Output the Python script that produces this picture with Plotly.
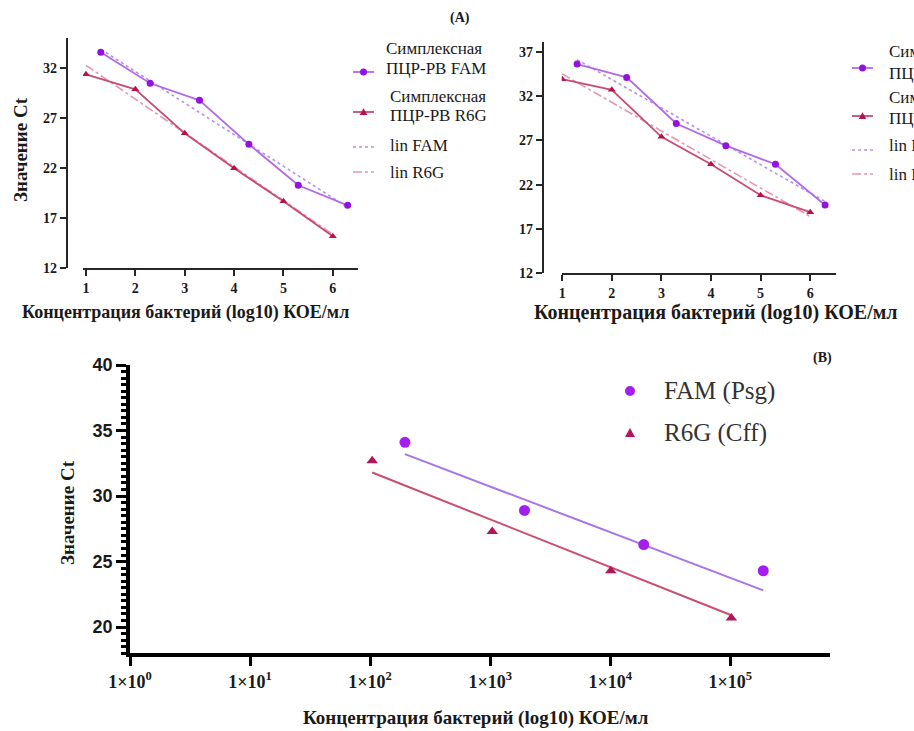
import plotly.graph_objects as go

W, H = 914, 731

# ---------------- data ----------------
# Panel A (left)
a1_x_fam = [1.3, 2.3, 3.3, 4.3, 5.3, 6.3]
a1_y_fam = [33.6, 30.5, 28.8, 24.4, 20.3, 18.3]
a1_x_r6g = [1, 2, 3, 4, 5, 6]
a1_y_r6g = [31.4, 29.9, 25.5, 22.0, 18.7, 15.2]
a1_lin_fam_x = [1.3, 6.3]
a1_lin_fam_y = [33.9, 18.1]
a1_lin_r6g_x = [1, 6]
a1_lin_r6g_y = [32.3, 15.4]

# Panel A (right)
a2_x_fam = [1.3, 2.3, 3.3, 4.3, 5.3, 6.3]
a2_y_fam = [35.6, 34.1, 28.9, 26.4, 24.3, 19.7]
a2_x_r6g = [1, 2, 3, 4, 5, 6]
a2_y_r6g = [33.9, 32.7, 27.4, 24.3, 20.8, 18.9]
a2_lin_fam_x = [1.3, 6.3]
a2_lin_fam_y = [36.1, 20.1]
a2_lin_r6g_x = [1, 6]
a2_lin_r6g_y = [34.5, 18.4]

a_xticks = [1, 2, 3, 4, 5, 6]
a1_yticks = [12, 17, 22, 27, 32]
a2_yticks = [12, 17, 22, 27, 32, 37]

# Panel B
b_x_fam = [1.95e2, 1.93e3, 1.9e4, 1.88e5]
b_y_fam = [34.1, 28.9, 26.3, 24.3]
b_x_r6g = [1.04e2, 1.04e3, 1.01e4, 1.02e5]
b_y_r6g = [32.7, 27.3, 24.3, 20.7]
b_fit_fam_x = [1.95e2, 1.88e5]
b_fit_fam_y = [33.2, 22.8]
b_fit_r6g_x = [1.04e2, 1.02e5]
b_fit_r6g_y = [31.8, 20.9]
b_xticks = [1, 10, 100, 1000, 10000, 100000]
b_xticktext = ["1×10<sup>%d</sup>" % i for i in range(6)]
b_yticks = [20, 25, 30, 35, 40]

legend_a = ["Симплексная", "ПЦР-РВ FAM", "Симплексная", "ПЦР-РВ R6G", "lin FAM", "lin R6G"]
legend_b = ["FAM (Psg)", "R6G (Cff)"]
title_y = "Значение Ct"
title_x = "Концентрация бактерий (log10) КОЕ/мл"

# ---------------- styles ----------------
C_FAM_M = "#9412E0"
C_FAM_L = "#B468EA"
C_FAM_D = "#B690EC"
C_R6G_M = "#B8124E"
C_R6G_L = "#C94A74"
C_R6G_D = "#E597AE"
C_B_FAM_L = "#A874EA"
C_B_FAM_M = "#A21FF0"
C_B_R6G_L = "#CC4D6E"
C_B_R6G_M = "#B4145A"
SERIF = "Liberation Serif"
AX = "#262626"


def px(x):
    return x / W


def py(y):
    return 1 - y / H


fig = go.Figure()

# Panel A left
fig.add_trace(go.Scatter(x=a1_lin_fam_x, y=a1_lin_fam_y, mode="lines", name="lin FAM",
                         line=dict(color=C_FAM_D, width=1.6, dash="dot"), xaxis="x", yaxis="y"))
fig.add_trace(go.Scatter(x=a1_lin_r6g_x, y=a1_lin_r6g_y, mode="lines", name="lin R6G",
                         line=dict(color=C_R6G_D, width=1.6, dash="dashdot"), xaxis="x", yaxis="y"))
fig.add_trace(go.Scatter(x=a1_x_fam, y=a1_y_fam, mode="lines+markers", name="ПЦР-РВ FAM",
                         line=dict(color=C_FAM_L, width=1.8),
                         marker=dict(color=C_FAM_M, size=7, symbol="circle"), xaxis="x", yaxis="y"))
fig.add_trace(go.Scatter(x=a1_x_r6g, y=a1_y_r6g, mode="lines+markers", name="ПЦР-РВ R6G",
                         line=dict(color=C_R6G_L, width=1.8),
                         marker=dict(color=C_R6G_M, size=7, symbol="triangle-up"), xaxis="x", yaxis="y"))

# Panel A right
fig.add_trace(go.Scatter(x=a2_lin_fam_x, y=a2_lin_fam_y, mode="lines", name="lin FAM",
                         line=dict(color=C_FAM_D, width=1.6, dash="dot"), xaxis="x2", yaxis="y2"))
fig.add_trace(go.Scatter(x=a2_lin_r6g_x, y=a2_lin_r6g_y, mode="lines", name="lin R6G",
                         line=dict(color=C_R6G_D, width=1.6, dash="dashdot"), xaxis="x2", yaxis="y2"))
fig.add_trace(go.Scatter(x=a2_x_fam, y=a2_y_fam, mode="lines+markers", name="ПЦР-РВ FAM",
                         line=dict(color=C_FAM_L, width=1.8),
                         marker=dict(color=C_FAM_M, size=7, symbol="circle"), xaxis="x2", yaxis="y2"))
fig.add_trace(go.Scatter(x=a2_x_r6g, y=a2_y_r6g, mode="lines+markers", name="ПЦР-РВ R6G",
                         line=dict(color=C_R6G_L, width=1.8),
                         marker=dict(color=C_R6G_M, size=7, symbol="triangle-up"), xaxis="x2", yaxis="y2"))

# Panel B
fig.add_trace(go.Scatter(x=b_fit_fam_x, y=b_fit_fam_y, mode="lines", name="fit FAM",
                         line=dict(color=C_B_FAM_L, width=2), xaxis="x3", yaxis="y3"))
fig.add_trace(go.Scatter(x=b_fit_r6g_x, y=b_fit_r6g_y, mode="lines", name="fit R6G",
                         line=dict(color=C_B_R6G_L, width=2), xaxis="x3", yaxis="y3"))
fig.add_trace(go.Scatter(x=b_x_fam, y=b_y_fam, mode="markers", name=legend_b[0],
                         marker=dict(color=C_B_FAM_M, size=11, symbol="circle"), xaxis="x3", yaxis="y3"))
fig.add_trace(go.Scatter(x=b_x_r6g, y=b_y_r6g, mode="markers", name=legend_b[1],
                         marker=dict(color=C_B_R6G_M, size=10, symbol="triangle-up"), xaxis="x3", yaxis="y3"))

tickfont_a = dict(family=SERIF, size=14, color="#1a1a1a", weight="bold")
axis_a = dict(showgrid=False, zeroline=False, showline=True, linecolor=AX, linewidth=2.2,
              ticks="outside", ticklen=6, tickwidth=2.2, tickcolor=AX, tickfont=tickfont_a)

fig.update_layout(
    width=W, height=H, margin=dict(l=0, r=0, t=0, b=0, autoexpand=False),
    paper_bgcolor="white", plot_bgcolor="white", showlegend=False,
    xaxis=dict(axis_a, domain=[px(83), px(358)], range=[0.94, 6.51], anchor="y",
               tickvals=a_xticks),
    yaxis=dict(axis_a, domain=[py(268.3), py(38)], range=[12, 35.03], anchor="free",
               position=px(67), tickvals=a1_yticks),
    xaxis2=dict(axis_a, domain=[px(561.7), px(836)], range=[0.99, 6.52], anchor="y2",
                tickvals=a_xticks),
    yaxis2=dict(axis_a, domain=[py(273.3), py(41.7)], range=[12, 38.13], anchor="free",
                position=px(543), tickvals=a2_yticks),
    xaxis3=dict(type="log", domain=[px(130), px(830)], range=[0, 5.83], anchor="y3",
                showgrid=False, zeroline=False, showline=True, linecolor="black", linewidth=3.5,
                ticks="outside", ticklen=9, tickwidth=3, tickcolor="black",
                tickvals=b_xticks, ticktext=b_xticktext,
                tickfont=dict(family=SERIF, size=18, color="#1a1a1a", weight="bold")),
    yaxis3=dict(domain=[py(653.3), py(365)], range=[18, 40], anchor="x3",
                showgrid=False, zeroline=False, showline=True, linecolor="black", linewidth=3.5,
                ticks="outside", ticklen=10, tickwidth=3, tickcolor="black",
                tickvals=b_yticks,
                tickfont=dict(family="Liberation Sans", size=18, color="#1a1a1a", weight="bold"),
                minor=dict(dtick=0.5, ticks="outside", ticklen=5, tickwidth=2.5, tickcolor="black")),
)

ann = []


def text(x, y, s, size, bold=False, xanchor="left", angle=0, color="#1a1a1a", family=SERIF):
    ann.append(dict(x=px(x), y=py(y), xref="paper", yref="paper", text=("<b>%s</b>" % s) if bold else s,
                    showarrow=False, xanchor=xanchor, yanchor="middle", textangle=angle,
                    font=dict(family=family, size=size, color=color)))


text(460, 18, "(A)", 14, bold=True, xanchor="center")
text(20, 150, title_y, 19, bold=True, xanchor="center", angle=-90)
text(185, 313, title_x, 18, bold=True, xanchor="center")
text(716, 313, title_x, 20, bold=True, xanchor="center")

# Legend A left
text(384, 48, legend_a[0], 17)
text(384, 69, legend_a[1], 17)
text(388, 96, legend_a[2], 17)
text(388, 116, legend_a[3], 17)
text(388, 145, legend_a[4], 17)
text(388, 172, legend_a[5], 17)
# Legend A right (runs off the page edge, as in the source figure)
text(887, 52, legend_a[0], 17)
text(887, 73, legend_a[1], 17)
text(887, 98, legend_a[2], 17)
text(887, 118, legend_a[3], 17)
text(887, 145, legend_a[4], 17)
text(887, 174, legend_a[5], 17)

# Panel B texts
text(822, 358, "(B)", 14, bold=True, xanchor="center")
text(67, 513, title_y, 19, bold=True, xanchor="center", angle=-90)
text(476, 718, title_x, 19, bold=True, xanchor="center")
text(662, 391, legend_b[0], 25, color="#333333")
text(662, 433, legend_b[1], 25, color="#333333")

fig.update_layout(annotations=ann)

shapes = []


def seg(x0, x1, y, color, dash="solid", width=1.8):
    shapes.append(dict(type="line", xref="paper", yref="paper", x0=px(x0), x1=px(x1), y0=py(y), y1=py(y),
                       line=dict(color=color, width=width, dash=dash)))


def dot(x, y, r, color):
    shapes.append(dict(type="circle", xref="paper", yref="paper", x0=px(x - r), x1=px(x + r),
                       y0=py(y + r), y1=py(y - r), fillcolor=color, line=dict(width=0)))


def tri(x, y, r, color):
    path = "M %f,%f L %f,%f L %f,%f Z" % (px(x - r), py(y + r * 0.8), px(x + r), py(y + r * 0.8),
                                          px(x), py(y - r))
    shapes.append(dict(type="path", xref="paper", yref="paper", path=path, fillcolor=color,
                       line=dict(width=0)))


for (lx0, lx1, ys) in [(353, 374, (72, 112, 147, 172)), (852, 873, (68, 116, 150, 174))]:
    seg(lx0, lx1, ys[0], C_FAM_L)
    dot((lx0 + lx1) / 2, ys[0], 3.5, C_FAM_M)
    seg(lx0, lx1, ys[1], C_R6G_L)
    tri((lx0 + lx1) / 2, ys[1], 3.8, C_R6G_M)
    seg(lx0, lx1, ys[2], C_FAM_D, dash="dot", width=1.6)
    seg(lx0, lx1, ys[3], C_R6G_D, dash="dashdot", width=1.6)

dot(630, 391, 5, C_B_FAM_M)
tri(630, 433, 5, C_B_R6G_M)

fig.update_layout(shapes=shapes)

fig.write_html("out.html")
